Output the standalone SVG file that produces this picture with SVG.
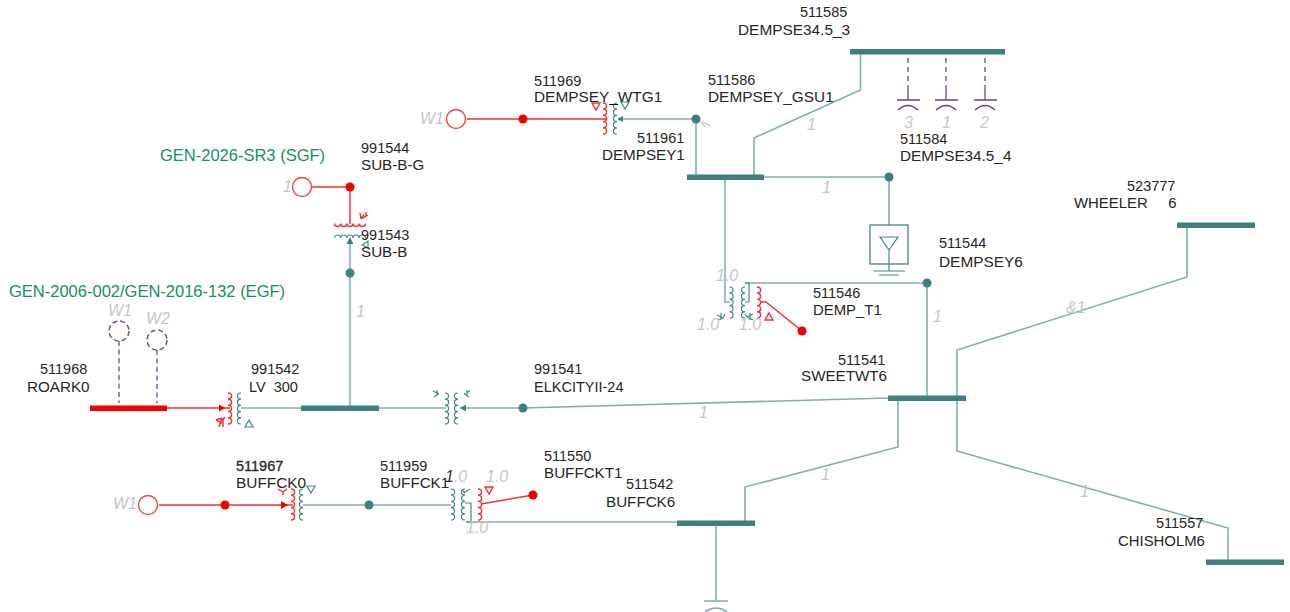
<svg xmlns="http://www.w3.org/2000/svg" width="1290" height="612" viewBox="0 0 1290 612">
<style>
text{font-family:"Liberation Sans",Arial,sans-serif;font-size:14.5px;fill:#262626}
.n{font-size:15.2px}
.g{fill:#c6c6c6;font-style:italic;font-size:16px}
.gr{fill:#14905a;font-size:16.5px}
.b{fill:#3f7f7f;stroke:none}
.w,.v,.t,.r,.p,.c{fill:none}
.w{stroke:#7fafae;stroke-width:1.6}
.v{stroke:#9fc3c2;stroke-width:2.2}
.t{stroke:#478585;stroke-width:1.2}
.r{stroke:#f23030;stroke-width:1.4}
.p{stroke:#875c92;stroke-width:1.5}
.c{stroke:#6d3f78;stroke-width:1.5}
.dt{fill:#3f7f7f}
.dr{fill:#f00000}
.ci{fill:#fff;stroke:#f04545;stroke-width:1.4}
.pre{white-space:pre}
</style>
<defs>
<path id="coil" d="M0 0a3.600 3.100 0 0 1 0 6.200a3.600 3.100 0 0 1 0 6.200a3.600 3.100 0 0 1 0 6.200a3.600 3.100 0 0 1 0 6.200a3.600 3.100 0 0 1 0 6.200"/>
<path id="coilL" d="M0 0a3.600 3.100 0 0 0 0 6.200a3.600 3.100 0 0 0 0 6.200a3.600 3.100 0 0 0 0 6.200a3.600 3.100 0 0 0 0 6.200a3.600 3.100 0 0 0 0 6.200"/>
<path id="hcoil" d="M0 0a3.100 3 0 0 0 6.200 0a3.100 3 0 0 0 6.200 0a3.100 3 0 0 0 6.200 0a3.100 3 0 0 0 6.200 0a3.100 3 0 0 0 6.200 0"/>
<path id="hcoilU" d="M0 0a3.100 3 0 0 1 6.200 0a3.100 3 0 0 1 6.200 0a3.100 3 0 0 1 6.200 0a3.100 3 0 0 1 6.200 0a3.100 3 0 0 1 6.200 0"/>
</defs>

<g id="connectors">
<path class="w" d="M860.500 54V90L754 138V177"/>
<path class="v" d="M696 119V177"/>
<path class="t" d="M618 119H696"/>
<path class="w" d="M764 177H889V225"/>
<path class="v" d="M725 180V302H730"/>
<path class="v" d="M745 283H927"/>
<path class="w" d="M927 283V398"/>
<path class="v" d="M350 408V243"/>
<path class="v" d="M379 408H446"/>
<path class="v" d="M460 408H523"/>
<path class="w" d="M523 408L888 398"/>
<path class="w" d="M1187 225V277L957 350V398"/>
<path class="w" d="M957 398V451L1228 528V562"/>
<path class="w" d="M898 398V447L745 487V523"/>
<path class="v" d="M466 522H677"/>
<path class="t" d="M303 505H451"/>
<path class="w" d="M716 523V600"/>
<path class="r" d="M467 119H606"/>
<path class="r" d="M312 187H350V224"/>
<path class="r" d="M167 408H230"/>
<path class="r" d="M159 505H293"/>
<path class="r" d="M481 504L533 495"/>
<path class="r" d="M761 302H766L802 331"/>
<path class="v" d="M241 408H301"/>
</g>

<g id="bus-511585"><rect class="b" x="850" y="49" width="155" height="5.500"/><text x="800" y="17">511585</text><text class="n" x="738" y="35" style="font-size:15.400px">DEMPSE34.5_3</text></g>
<g id="bus-511584"><path class="p" d="M908 58V83M946 58V83M985 58V83" stroke-dasharray="5 4"/><path class="p" d="M908 85V100M946 85V100M985 85V100"/><path class="c" d="M897 100H920M935 100H958M974 100H997"/><path class="c" stroke-width="2" d="M898 110q10 -9 20 0M936 110q10 -9 20 0M975 110q10 -9 20 0"/>
<text class="g" x="904" y="128">3</text><text class="g" x="942" y="128">1</text><text class="g" x="980" y="128">2</text>
<text x="900" y="144">511584</text><text class="n" x="900" y="161" style="font-size:15.300px">DEMPSE34.5_4</text></g>
<g id="bus-511586"><circle class="dt" cx="696" cy="119" r="4.500"/><text x="708" y="85">511586</text><text class="n" x="708" y="102" style="font-size:15.400px">DEMPSEY_GSU1</text><path d="M700 121l11 5M700 121l5 6" stroke="#d2d2d2" stroke-width="1.500" fill="none"/></g>
<g id="bus-511961"><rect class="b" x="687" y="174.500" width="77" height="5.500"/><text x="637" y="143">511961</text><text class="n" x="602" y="160">DEMPSEY1</text></g>
<g id="bus-511969"><text x="534" y="86">511969</text><text class="n" x="534" y="102" style="font-size:15.400px">DEMPSEY_WTG1</text>
<use class="r" href="#coil" x="603" y="103"/><use class="t" href="#coilL" x="617" y="103"/>
<path d="M610 104.500h8" stroke="#111" fill="none"/><path class="r" d="M592 103h8l-4 7z"/><path class="t" d="M621 102h8l-4 7z"/><path class="dt" d="M617 119l6 -3v6z"/>
<circle class="ci" cx="456" cy="119" r="9.500"/><circle class="dr" cx="523" cy="119" r="4.500"/><text class="g" x="420" y="124">W1</text></g>
<g id="bus-991544"><circle class="ci" cx="302" cy="187" r="9.500"/><circle class="dr" cx="350" cy="187" r="4.500"/><text class="g" x="283" y="192">1</text><text class="gr" x="160" y="161">GEN-2026-SR3 (SGF)</text><text x="361" y="153">991544</text><text class="n" x="361" y="170">SUB-B-G</text>
<use class="r" href="#hcoil" x="334.500" y="223.500"/><path class="r" stroke-width="1.100" d="M361 219l3 -5M361 219l-1 -6M361 219l6 -4M363 218l5 -3M366 212v5"/></g>
<g id="bus-991543"><circle class="dt" cx="350" cy="273" r="4.500"/><use class="t" href="#hcoilU" x="334.500" y="238"/><path class="dt" d="M350 237l-3.500 7h7z"/><path class="t" d="M362 245l6 -4v7z"/><text x="361" y="240">991543</text><text class="n" x="361" y="257">SUB-B</text><text class="g" x="356" y="317">1</text></g>
<g id="gen-2006"><text class="gr" x="9" y="297">GEN-2006-002/GEN-2016-132 (EGF)</text>
<path class="p" d="M119 341V403M157 350V403" stroke-dasharray="5 3.500"/><circle cx="119" cy="331" r="10" fill="none" stroke="#7a4f85" stroke-width="1.500" stroke-dasharray="5 3"/><circle cx="157" cy="340" r="10" fill="none" stroke="#7a4f85" stroke-width="1.500" stroke-dasharray="5 3"/><text class="g" x="108" y="316">W1</text><text class="g" x="146" y="324">W2</text></g>
<g id="bus-511968"><rect x="90" y="405.500" width="77" height="5.500" fill="#f40000"/><text x="40" y="374">511968</text><text class="n" x="27" y="392">ROARK0</text></g>
<g id="bus-991542"><rect class="b" x="301" y="405.500" width="78" height="5.500"/><text x="251" y="374">991542</text><text class="pre" x="249" y="392">LV  300</text>
<use class="r" href="#coil" x="228" y="393"/><use class="t" href="#coilL" x="241" y="393"/><path class="dr" d="M225 408l-6 -3.500v7z"/><path class="r" stroke-width="1.100" d="M216 420l6 -2M216 420l6 3M219 427l3 -9M223 427v-8M225 417l-3 4"/><path class="t" d="M245 427h8l-4 -7z"/></g>
<g id="bus-991541"><circle class="dt" cx="523" cy="408" r="4.500"/><text x="534" y="374">991541</text><text class="n" x="534" y="392" style="font-size:14.500px">ELKCITYII-24</text>
<use class="t" href="#coil" x="445" y="393"/><use class="t" href="#coilL" x="458" y="393"/><path class="dt" d="M460 408l6 -3.500v7z"/><path class="t" d="M433 391l6 3M434 397l5 -3M437 390v6M470 391l-6 3M469 397l-5 -3M467 390v6"/><text class="g" x="699" y="418">1</text></g>
<g id="bus-511967"><circle class="ci" cx="148" cy="505" r="9.500"/><circle class="dr" cx="225" cy="505" r="4.500"/><text class="g" x="113" y="509">W1</text><text x="236" y="471" style="stroke:#262626;stroke-width:.3">511967</text><text class="n" x="236" y="488" style="font-size:15.400px">BUFFCK0</text>
<use class="r" href="#coil" x="291" y="489"/><use class="t" href="#coilL" x="303" y="489"/><path class="dr" d="M288 505l-7 -4v8z"/><path class="t" d="M307 486h8l-4 7z"/><path class="r" stroke-width="1.100" d="M278 489l5 3 4 -3M283 492v3"/></g>
<g id="bus-511959"><circle class="dt" cx="369" cy="505" r="4.500"/><text x="380" y="471">511959</text><text class="n" x="380" y="488">BUFFCK1</text>
<use class="t" href="#coil" x="451" y="489"/><use class="t" href="#coilL" x="465" y="489"/><path class="t" d="M465 503h6V522H466M470 489l-5 3M462 490l3 3"/><text class="g" x="445" y="482"><tspan fill="#333">1</tspan>.0</text><text class="g" x="466" y="533">1.0</text></g>
<g id="bus-511550"><use class="r" href="#coil" x="478" y="489"/><path class="r" d="M485 487h8l-4 7z"/><circle class="dr" cx="533" cy="495" r="4.500"/><text class="g" x="486" y="482">1.0</text><text x="544" y="461">511550</text><text class="n" x="544" y="478">BUFFCKT1</text></g>
<g id="bus-511542"><rect class="b" x="677" y="520.500" width="78" height="5.500"/><text x="626" y="489">511542</text><text class="n" x="606" y="507">BUFFCK6</text><path class="w" d="M704 601H728M705 612q11 -8 22 0"/></g>
<g id="bus-511544"><circle class="dt" cx="927" cy="283" r="4.500"/><text x="939" y="248">511544</text><text class="n" x="939" y="267" style="font-size:15.400px">DEMPSEY6</text>
<circle class="dt" cx="889" cy="177" r="4.500"/><rect x="870" y="225" width="38" height="39" fill="none" stroke="#478585" stroke-width="1.300"/><path class="t" d="M880 237h18l-9 13zM889 250V271M874 271H905M879 275H899"/></g>
<g id="bus-511546"><use class="t" href="#coil" x="729.500" y="287"/><use class="t" href="#coilL" x="745" y="287"/><use class="r" href="#coil" x="757" y="287"/><path class="t" d="M745 283H749V302H745"/><path class="t" d="M717 315l6 3M718 320l5 -2M721 313v7M725 314l-2 4M753 314l-6 3M753 320l-6 -3M750 313v7M745 314l2 3"/>
<path class="r" d="M765 320h8l-4 -7z"/><circle class="dr" cx="802" cy="331" r="4.500"/><text class="g" x="716" y="281">1.0</text><text class="g" x="697" y="330">1.0</text><text class="g" x="739" y="330">1.0</text><text x="813" y="298">511546</text><text class="n" x="813" y="315" style="font-size:14.900px">DEMP_T1</text></g>
<g id="bus-511541"><rect class="b" x="888" y="395.500" width="78" height="5.500"/><text x="838" y="365">511541</text><text class="n" x="801" y="381">SWEETWT6</text></g>
<g id="bus-523777"><rect class="b" x="1177" y="222.500" width="78" height="5.500"/><text x="1127" y="191">523777</text><text class="pre" x="1074" y="208" style="font-size:14.900px">WHEELER     6</text></g>
<g id="bus-511557"><rect class="b" x="1206" y="559.500" width="78" height="5.500"/><text x="1156" y="528">511557</text><text class="n" x="1118" y="546" style="font-size:14.900px">CHISHOLM6</text></g>
<g id="flow-labels"><text class="g" x="807" y="130">1</text><text class="g" x="822" y="193">1</text><text class="g" x="933" y="322">1</text><text class="g" x="1066" y="313">&amp;1</text><text class="g" x="821" y="480">1</text><text class="g" x="1080" y="497">1</text></g>
</svg>
